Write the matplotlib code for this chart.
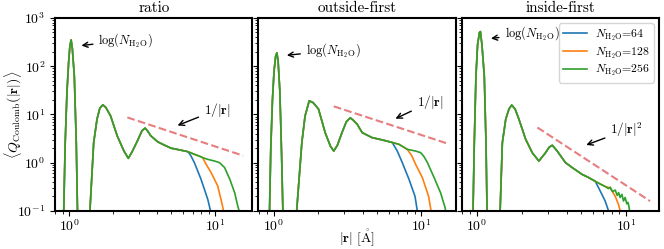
import numpy as np
import matplotlib
matplotlib.use('Agg')
import matplotlib.pyplot as plt

plt.rcParams['font.family'] = ['cmr10', 'DejaVu Serif']
plt.rcParams['mathtext.fontset'] = 'cm'
plt.rcParams['axes.formatter.use_mathtext'] = True
plt.rcParams['font.size'] = 10
plt.rcParams['axes.linewidth'] = 1.5

titles = ['ratio', 'outside-first', 'inside-first']
n_water = [64, 128, 256]

# --- ratio: part shared by all three system sizes, then the tails
r_core_ratio = [0.90, 0.915, 0.938, 0.964, 0.99, 1.01, 1.03, 1.05, 1.083, 1.117, 1.14, 1.155,
                1.37, 1.39, 1.47, 1.55, 1.62, 1.70, 1.78, 1.92, 2.13, 2.37, 2.54, 2.70, 2.93,
                3.15, 3.31, 3.45, 3.62, 4.04, 4.50, 4.97, 5.50, 6.10, 6.40]
q_core_ratio = [0.02, 0.08, 2.6, 28, 120, 260, 350, 230, 63, 2.6, 0.08, 0.02,
                0.02, 0.12, 2.6, 8.0, 13.5, 15.8, 14.0, 9.3, 3.6, 1.74, 1.23, 1.7, 2.82,
                4.6, 5.2, 4.5, 3.6, 2.7, 2.3, 2.0, 1.88, 1.76, 1.71]
r_tail_ratio_64 = [6.6, 6.83, 7.2, 8.0, 8.9, 9.29, 9.4]
q_tail_ratio_64 = [1.6, 1.37, 1.0, 0.45, 0.172, 0.1, 0.07]
r_tail_ratio_128 = [6.8, 7.2, 8.0, 8.2, 8.67, 9.38, 10.4, 11.1, 11.4, 11.5]
q_tail_ratio_128 = [1.6, 1.49, 1.32, 1.27, 0.92, 0.62, 0.33, 0.147, 0.1, 0.07]
r_tail_ratio_256 = [6.8, 7.2, 8.0, 8.2, 8.9, 9.9, 10.7, 11.6, 12.6, 13.6, 14.2, 14.5, 14.6]
q_tail_ratio_256 = [1.6, 1.49, 1.32, 1.27, 1.17, 1.08, 1.0, 0.79, 0.45, 0.237, 0.135, 0.107, 0.07]

# --- outside-first
r_core_out = [0.92, 0.935, 0.955, 0.98, 1.005, 1.03, 1.05, 1.07, 1.10, 1.13, 1.155, 1.17,
              1.41, 1.43, 1.55, 1.63, 1.74, 1.85, 2.01, 2.23, 2.42, 2.55, 2.70, 2.90, 3.10,
              3.30, 3.45, 3.67, 3.97, 4.64, 5.43, 6.35]
q_core_out = [0.02, 0.08, 2.0, 20, 80, 160, 189, 130, 30, 1.5, 0.08, 0.02,
              0.02, 0.1, 2.6, 9.3, 19.2, 17.5, 12.9, 4.2, 2.2, 1.74, 2.3, 4.2, 7.0,
              8.5, 7.6, 6.3, 4.2, 3.3, 2.96, 2.62]
r_tail_out_64 = [6.87, 7.43, 8.25, 9.06, 9.44, 9.55]
q_tail_out_64 = [1.74, 1.0, 0.45, 0.2, 0.09, 0.07]
r_tail_out_128 = [7.05, 8.03, 8.6, 9.15, 10.16, 11.2, 11.7, 11.8]
q_tail_out_128 = [2.4, 1.89, 1.4, 0.92, 0.49, 0.2, 0.09, 0.07]
r_tail_out_256 = [7.05, 8.03, 9.15, 9.9, 10.4, 11.0, 12.2, 13.5, 14.5, 14.8]
q_tail_out_256 = [2.4, 1.89, 1.74, 1.61, 1.35, 1.0, 0.49, 0.237, 0.115, 0.07]

# --- inside-first
r_core_in = [0.925, 0.94, 0.96, 0.985, 1.01, 1.04, 1.055, 1.08, 1.12, 1.15, 1.17, 1.185,
             1.41, 1.43, 1.48, 1.56, 1.64, 1.71, 1.80, 1.91, 2.12, 2.35, 2.60, 2.88, 3.05,
             3.20, 3.45, 3.92, 4.35, 5.07, 5.61, 6.21]
q_core_in = [0.02, 0.08, 2.6, 63, 280, 500, 520, 280, 63, 2.6, 0.08, 0.02,
             0.02, 0.1, 2.6, 8.0, 13.0, 15.6, 13.0, 8.0, 3.06, 1.6, 1.08, 1.6, 2.1,
             2.29, 1.74, 1.0, 0.79, 0.57, 0.49, 0.41]
r_tail_in_64 = [6.71, 7.24, 7.62, 7.7]
q_tail_in_64 = [0.256, 0.159, 0.1, 0.07]
r_tail_in_128 = [6.71, 7.24, 7.82, 8.45, 8.89, 9.12, 9.2]
q_tail_in_128 = [0.36, 0.32, 0.30, 0.2, 0.135, 0.1, 0.07]
r_tail_in_256 = [6.71, 7.24, 7.6, 7.82, 8.1, 8.45, 8.7, 8.9, 9.1, 9.36, 9.6, 9.84,
                 10.1, 10.3, 10.5, 10.6]
q_tail_in_256 = [0.36, 0.32, 0.29, 0.31, 0.25, 0.27, 0.21, 0.24, 0.19, 0.22, 0.16, 0.19,
                 0.14, 0.15, 0.11, 0.07]

# power-law guide lines (end points)
r_guide = [[2.5, 15.5], [2.55, 15.4], [2.54, 14.45]]
q_guide = [[8.66, 1.40], [14.7, 2.43], [5.36, 0.16]]
guide_labels = [r'$1/|\mathbf{r}|$', r'$1/|\mathbf{r}|$', r'$1/|\mathbf{r}|^2$']

panels = [
    (r_core_ratio, q_core_ratio,
     [(r_tail_ratio_64, q_tail_ratio_64), (r_tail_ratio_128, q_tail_ratio_128),
      (r_tail_ratio_256, q_tail_ratio_256)]),
    (r_core_out, q_core_out,
     [(r_tail_out_64, q_tail_out_64), (r_tail_out_128, q_tail_out_128),
      (r_tail_out_256, q_tail_out_256)]),
    (r_core_in, q_core_in,
     [(r_tail_in_64, q_tail_in_64), (r_tail_in_128, q_tail_in_128),
      (r_tail_in_256, q_tail_in_256)]),
]

# annotation placement (arrow tip, text position) per panel
peak_arrow = [((1.16, 264), (1.585, 341)), ((1.175, 166), (1.65, 211)), ((1.19, 370), (1.53, 471))]
guide_arrow = [((5.3, 5.62), (8.36, 12.5)), ((6.42, 7.72), (9.29, 17.8)), ((5.19, 2.22), (7.82, 4.78))]
xlims = [(0.80, 18.0), (0.787, 17.1), (0.79, 16.6)]

fig, axes = plt.subplots(1, 3, sharey=True, figsize=(6.64, 2.49), dpi=100)
fig.subplots_adjust(left=0.083, right=0.9925, top=0.928, bottom=0.153, wspace=0.03)

for i, ax in enumerate(axes):
    r_core, q_core, tails = panels[i]
    for j, (rt, qt) in enumerate(tails):
        r = r_core + rt
        q = q_core + qt
        ax.plot(r, q, color='C%d' % j, lw=1.2, label=r'$N_{\rm H_2O}$=%d' % n_water[j])
    ax.plot(r_guide[i], q_guide[i], ls='--', color='C3', alpha=0.6, lw=1.5)
    ax.annotate(r'$\log(N_{\rm H_2O})$', xy=peak_arrow[i][0], xytext=peak_arrow[i][1],
                ha='left', va='center', fontsize=9,
                arrowprops=dict(arrowstyle='->', color='k', lw=1))
    ax.annotate(guide_labels[i], xy=guide_arrow[i][0], xytext=guide_arrow[i][1],
                ha='left', va='center', fontsize=9.5,
                arrowprops=dict(arrowstyle='->', color='k', lw=1))
    ax.set_xscale('log')
    ax.set_yscale('log')
    ax.set_xlim(*xlims[i])
    ax.set_ylim(0.1, 1000)
    ax.tick_params(axis='x', pad=2)
    ax.set_title(titles[i], fontsize=11, pad=4)

axes[0].set_ylabel(r'$\langle Q_{\rm Coulomb}(|\mathbf{r}|)\rangle$', fontsize=10)
axes[0].yaxis.set_label_coords(-0.16, 0.5)
axes[1].set_xlabel(r'$|\mathbf{r}|\ [\mathring{\mathrm{A}}]$', fontsize=10)
axes[1].xaxis.set_label_coords(0.5, -0.085)
axes[2].legend(loc='upper right', fontsize=8.5, labelspacing=0.2, handlelength=2.1,
               borderpad=0.35, handletextpad=0.6, borderaxespad=0.45)

fig.savefig('out.png', dpi=100)
